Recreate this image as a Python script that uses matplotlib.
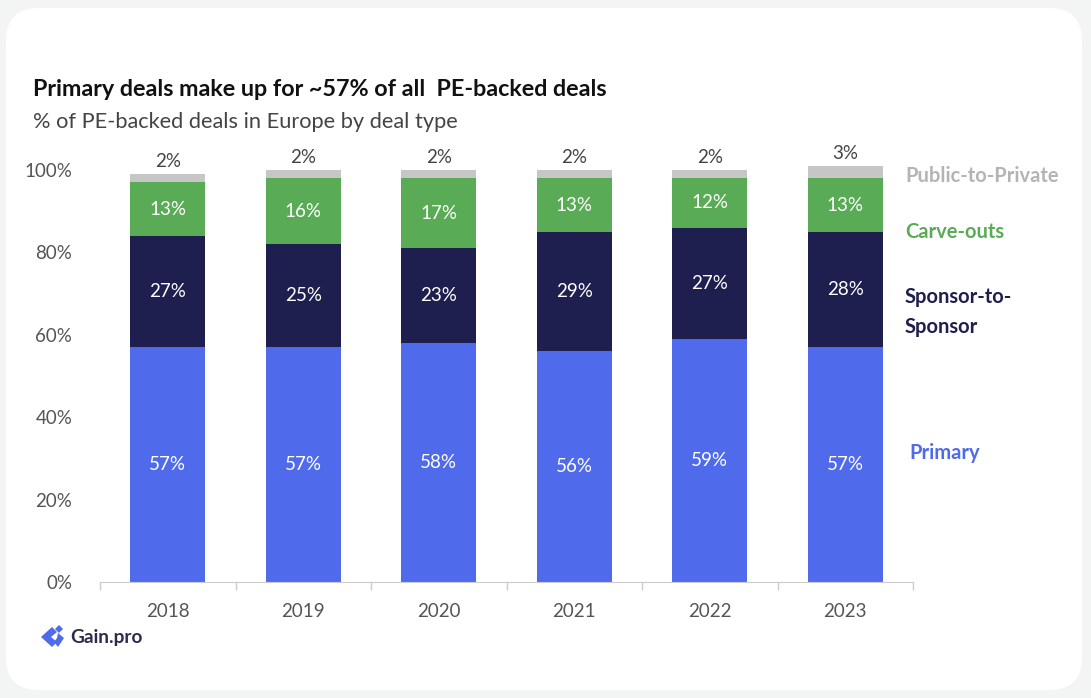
import matplotlib
matplotlib.use("Agg")
import matplotlib.pyplot as plt
from matplotlib.patches import FancyBboxPatch, Polygon
import numpy as np

plt.rcParams['font.family'] = ['Lato', 'DejaVu Sans']

years = ["2018", "2019", "2020", "2021", "2022", "2023"]
primary = [57, 57, 58, 56, 59, 57]
sponsor = [27, 25, 23, 29, 27, 28]
carve = [13, 16, 17, 13, 12, 13]
p2p = [2, 2, 2, 2, 2, 3]

series_names = ["Primary", "Sponsor-to-\nSponsor", "Carve-outs", "Public-to-Private"]
colors = ["#4f6bec", "#1e1f4e", "#5aab55", "#c6c6c6"]
label_colors = ["#4f6bec", "#1e1f4e", "#5aab55", "#b4b4b4"]

title = "Primary deals make up for ~57% of all  PE-backed deals"
subtitle = "% of PE-backed deals in Europe by deal type"

W, H = 1091, 698
fig = plt.figure(figsize=(W / 100, H / 100), dpi=100)
fig.patch.set_facecolor("#f3f4f4")

# white rounded card behind everything
card = FancyBboxPatch((6 / W, 8 / H), (1082 - 6) / W, (690 - 8) / H,
                      boxstyle="round,pad=0,rounding_size=0.03",
                      transform=fig.transFigure, facecolor="white",
                      edgecolor="none", zorder=-10, mutation_aspect=W / H)
fig.patches.append(card)

ax = fig.add_axes([100 / W, (H - 582) / H, (913 - 100) / W, (582 - 170) / H])
ax.set_facecolor("none")
ax.set_zorder(5)

x = np.arange(len(years))
stacks = [primary, sponsor, carve, p2p]
bottom = np.zeros(len(years))
for vals, col in zip(stacks, colors):
    vals = np.array(vals, dtype=float)
    ax.bar(x, vals, bottom=bottom, width=0.55, color=col, edgecolor="none",
           clip_on=False, zorder=2)
    bottom += vals

# value labels: inside the segments, the smallest one above the bar
bottom = np.zeros(len(years))
for k, vals in enumerate(stacks):
    vals = np.array(vals, dtype=float)
    for i, v in enumerate(vals):
        if k < 3:
            ax.text(x[i], bottom[i] + v / 2, f"{int(v)}%", ha="center",
                    va="center", color="white", fontsize=13.5, zorder=3)
        else:
            ax.text(x[i], bottom[i] + v + 1.0, f"{int(v)}%", ha="center",
                    va="bottom", color="#444444", fontsize=13.5, zorder=3)
    bottom += vals

ax.set_xlim(-0.5, 5.5)
ax.set_ylim(0, 100)
ax.set_yticks([0, 20, 40, 60, 80, 100])
ax.set_yticklabels([f"{t}%" for t in [0, 20, 40, 60, 80, 100]])
ax.tick_params(axis="y", length=0, pad=20, labelsize=13.5, labelcolor="#555555")
ax.set_xticks(x)
ax.set_xticklabels(years)
ax.set_xticks(np.arange(-0.5, 6, 1), minor=True)
ax.tick_params(axis="x", which="major", length=0, pad=15, labelsize=13.5,
               labelcolor="#555555")
ax.tick_params(axis="x", which="minor", length=6, color="#cccccc", width=1)
for s in ["top", "right", "left"]:
    ax.spines[s].set_visible(False)
ax.spines["bottom"].set_color("#cccccc")

# series names at right side
label_pos = [(909, 453), (905, 312), (905, 232), (905, 176)]
for name, col, (px, py) in zip(series_names, label_colors, label_pos):
    fig.text(px / W, 1 - py / H, name, ha="left", va="center", color=col,
             fontsize=14.5, fontweight="bold", linespacing=1.6)

fig.text(33 / W, 1 - 90 / H, title, ha="left", va="center", fontsize=16.8,
         fontweight="bold", color="#111111")
fig.text(33 / W, 1 - 122 / H, subtitle, ha="left", va="center", fontsize=15.7,
         color="#444444")

# Gain.pro logo mark
def fig_poly(points):
    p = np.array(points, dtype=float)
    return Polygon(np.c_[p[:, 0] / W, 1 - p[:, 1] / H], closed=True,
                   transform=fig.transFigure, facecolor="#4f6bec",
                   edgecolor="none")

fig.patches.append(fig_poly([[52, 627], [41, 637], [52, 647], [57, 642], [51, 637], [57, 632]]))
fig.patches.append(fig_poly([[58, 633], [64, 638], [58, 647], [54, 642], [57, 638]]))
fig.patches.append(fig_poly([[59, 625], [63, 629], [59, 633], [55, 629]]))
fig.text(70 / W, 1 - 637 / H, "Gain.pro", ha="left", va="center", fontsize=13.7,
         fontweight="bold", color="#2a2b4f")

fig.savefig("out.png", dpi=100, facecolor=fig.get_facecolor())
